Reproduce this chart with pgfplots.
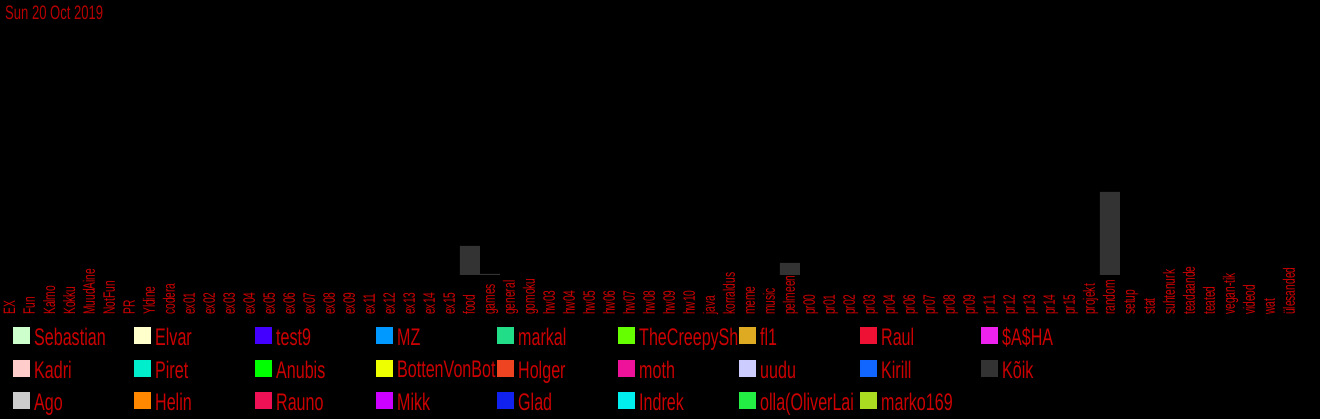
\documentclass[border=0pt]{standalone}
\usepackage{fontspec}
\setmainfont{Liberation Sans}[FakeStretch=0.67]
\newfontfamily\tickfont{Liberation Sans}[FakeStretch=0.62]
\usepackage{pgfplots}
\pgfplotsset{compat=1.18}
\definecolor{txt}{HTML}{CC0000}
\definecolor{ttl}{HTML}{B80000}
\definecolor{cSebastian}{HTML}{CCFFCC}
\definecolor{cElvar}{HTML}{FFFFCC}
\definecolor{ctest}{HTML}{4400FF}
\definecolor{cMZ}{HTML}{0099FF}
\definecolor{cmarkal}{HTML}{22DD88}
\definecolor{cCreepy}{HTML}{66FF00}
\definecolor{cfl}{HTML}{DDAA22}
\definecolor{cRaul}{HTML}{EE1133}
\definecolor{cSasha}{HTML}{EE22EE}
\definecolor{cKadri}{HTML}{FFCCCC}
\definecolor{cPiret}{HTML}{00EECC}
\definecolor{cAnubis}{HTML}{00FF00}
\definecolor{cBotten}{HTML}{EEFF00}
\definecolor{cHolger}{HTML}{EE4422}
\definecolor{cmoth}{HTML}{EE1199}
\definecolor{cuudu}{HTML}{CCCCFF}
\definecolor{cKirill}{HTML}{1166FF}
\definecolor{cKoik}{HTML}{333333}
\definecolor{cAgo}{HTML}{CCCCCC}
\definecolor{cHelin}{HTML}{FF8800}
\definecolor{cRauno}{HTML}{EE1155}
\definecolor{cMikk}{HTML}{CC00FF}
\definecolor{cGlad}{HTML}{1122EE}
\definecolor{cIndrek}{HTML}{00EEEE}
\definecolor{colla}{HTML}{22EE44}
\definecolor{cmarko}{HTML}{AADD22}
\newcommand{\lent}[1]{\makebox[104pt][l]{\hspace{4pt}#1}}
\begin{document}
\begin{tikzpicture}[x=1pt,y=1pt]
\fill[black] (0,0) rectangle (1320,419);
\useasboundingbox (0,0) rectangle (1320,419);
\begin{axis}[
  at={(0pt,144pt)}, anchor=south west,
  scale only axis, width=1320pt, height=250pt,
  xmin=-0.5, xmax=65.5, ymin=0, ymax=250,
  axis line style={draw=none},
  major tick length=0pt,
  ytick=\empty,
  xtick={0,...,64},
  xticklabels={EX,Fun,Kalmo,Kokku,MuudAine,NotFun,PR,Yldine,codera,ex01,ex02,ex03,ex04,ex05,ex06,ex07,ex08,ex09,ex11,ex12,ex13,ex14,ex15,food,games,general,gomoku,hw03,hw04,hw05,hw06,hw07,hw08,hw09,hw10,java,korraldus,meme,music,pelmeeni-,pr00,pr01,pr02,pr03,pr04,pr06,pr07,pr08,pr09,pr11,pr12,pr13,pr14,pr15,projekt,random,setup,stat,suhtenurk,teadaande,teated,vegan-tik,videod,wat,ülesanded},
  xticklabel style={xshift=5pt, yshift=-40pt, rotate=90, anchor=base west, inner sep=0pt, text=txt, font=\tickfont\fontsize{16.5}{16.5}\selectfont},
  legend columns=9,
  legend style={at={(axis description cs:0,0)}, anchor=north west, xshift=13pt, yshift=-52pt,
    draw=none, fill=none, inner sep=0pt, column sep=0pt, row sep=12.5pt,
    font=\fontsize{24}{32.5}\selectfont, text=txt, nodes={inner sep=0pt, anchor=west}},
  legend image code/.code={\fill[#1] (0pt,-6.5pt) rectangle (17pt,10.5pt);},
]
\addlegendimage{fill=cSebastian,draw=none}\addlegendentry{\lent{Sebastian}}
\addlegendimage{fill=cElvar,draw=none}\addlegendentry{\lent{Elvar}}
\addlegendimage{fill=ctest,draw=none}\addlegendentry{\lent{test9}}
\addlegendimage{fill=cMZ,draw=none}\addlegendentry{\lent{MZ}}
\addlegendimage{fill=cmarkal,draw=none}\addlegendentry{\lent{markal}}
\addlegendimage{fill=cCreepy,draw=none}\addlegendentry{\lent{TheCreepySh}}
\addlegendimage{fill=cfl,draw=none}\addlegendentry{\lent{fl1}}
\addlegendimage{fill=cRaul,draw=none}\addlegendentry{\lent{Raul}}
\addlegendimage{fill=cSasha,draw=none}\addlegendentry{\lent{\$A\$HA}}
\addlegendimage{fill=cKadri,draw=none}\addlegendentry{\lent{Kadri}}
\addlegendimage{fill=cPiret,draw=none}\addlegendentry{\lent{Piret}}
\addlegendimage{fill=cAnubis,draw=none}\addlegendentry{\lent{Anubis}}
\addlegendimage{fill=cBotten,draw=none}\addlegendentry{\lent{BottenVonBot}}
\addlegendimage{fill=cHolger,draw=none}\addlegendentry{\lent{Holger}}
\addlegendimage{fill=cmoth,draw=none}\addlegendentry{\lent{moth}}
\addlegendimage{fill=cuudu,draw=none}\addlegendentry{\lent{uudu}}
\addlegendimage{fill=cKirill,draw=none}\addlegendentry{\lent{Kirill}}
\addplot[ybar, bar width=20pt, bar shift=0pt, fill=cKoik, draw=none] coordinates {(23,29) (24,1) (39,12) (55,83)};
\addlegendentry{\lent{Kõik}}
\addlegendimage{fill=cAgo,draw=none}\addlegendentry{\lent{Ago}}
\addlegendimage{fill=cHelin,draw=none}\addlegendentry{\lent{Helin}}
\addlegendimage{fill=cRauno,draw=none}\addlegendentry{\lent{Rauno}}
\addlegendimage{fill=cMikk,draw=none}\addlegendentry{\lent{Mikk}}
\addlegendimage{fill=cGlad,draw=none}\addlegendentry{\lent{Glad}}
\addlegendimage{fill=cIndrek,draw=none}\addlegendentry{\lent{Indrek}}
\addlegendimage{fill=colla,draw=none}\addlegendentry{\lent{olla(OliverLai}}
\addlegendimage{fill=cmarko,draw=none}\addlegendentry{\lent{marko169}}
\end{axis}
\node[anchor=base west, inner sep=0pt, text=ttl, font=\fontsize{19.5}{20}\selectfont] at (5,399.5) {Sun 20 Oct 2019};
\end{tikzpicture}
\end{document}
